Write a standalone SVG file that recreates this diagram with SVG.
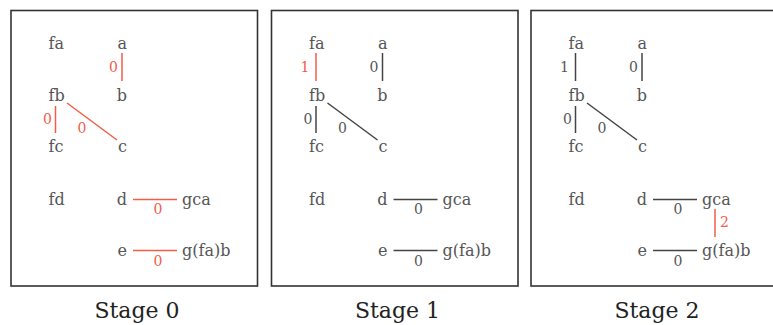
<svg xmlns="http://www.w3.org/2000/svg" width="773" height="325" viewBox="0 0 773 325">
<style>
.frame{fill:#fff;stroke:#333;stroke-width:1.6}
.n{font-family:"DejaVu Serif","Liberation Serif",serif;font-size:16px;fill:#555}
.e{font-family:"DejaVu Serif","Liberation Serif",serif;font-size:14px;fill:#555}
.er{font-family:"DejaVu Serif","Liberation Serif",serif;font-size:14px;fill:#f25c4a}
.r{text-anchor:end}
.m{text-anchor:middle}
.cap{font-family:"DejaVu Serif","Liberation Serif",serif;font-size:22px;fill:#222;text-anchor:middle}
.l{stroke:#444;stroke-width:1.5;fill:none}
.lr{stroke:#f25c4a;stroke-width:1.5;fill:none}
</style>
<rect width="773" height="325" fill="#fff"/>

<!-- Stage 0 -->
<g id="stage0">
<rect class="frame" x="11" y="10.5" width="246.5" height="275.5"/>
<g id="s0-nodes">
<text id="s0-fa" class="n" x="48.5" y="49">fa</text>
<text id="s0-a" class="n r" x="127" y="49">a</text>
<text id="s0-fb" class="n" x="48.5" y="101">fb</text>
<text id="s0-b" class="n r" x="127" y="101">b</text>
<text id="s0-fc" class="n" x="48.5" y="152">fc</text>
<text id="s0-c" class="n r" x="127" y="152">c</text>
<text id="s0-fd" class="n" x="48.5" y="205">fd</text>
<text id="s0-d" class="n r" x="127" y="205">d</text>
<text id="s0-gca" class="n" x="182" y="205">gca</text>
<text id="s0-e" class="n r" x="127" y="256">e</text>
<text id="s0-gfab" class="n" x="182" y="256">g(fa)b</text>
</g>
<g id="s0-connectors">
<line class="lr" x1="122" y1="53" x2="122" y2="81"/>
<line class="lr" x1="55.5" y1="106" x2="55.5" y2="133"/>
<line class="lr" x1="67" y1="103" x2="117" y2="140"/>
<line class="lr" x1="133" y1="199.5" x2="177" y2="199.5"/>
<line class="lr" x1="133" y1="250.5" x2="177" y2="250.5"/>
<text class="er r" x="118" y="72">0</text>
<text class="er r" x="52" y="124">0</text>
<text class="er" x="77.5" y="132.5">0</text>
<text class="er m" x="158" y="214">0</text>
<text class="er m" x="158" y="266">0</text>
</g>
<text class="cap" x="137" y="318">Stage 0</text>
</g>

<!-- Stage 1 -->
<g id="stage1" transform="translate(260.5,0)">
<rect class="frame" x="11" y="10.5" width="246.5" height="275.5"/>
<g id="s1-nodes">
<text id="s1-fa" class="n" x="48.5" y="49">fa</text>
<text id="s1-a" class="n r" x="127" y="49">a</text>
<text id="s1-fb" class="n" x="48.5" y="101">fb</text>
<text id="s1-b" class="n r" x="127" y="101">b</text>
<text id="s1-fc" class="n" x="48.5" y="152">fc</text>
<text id="s1-c" class="n r" x="127" y="152">c</text>
<text id="s1-fd" class="n" x="48.5" y="205">fd</text>
<text id="s1-d" class="n r" x="127" y="205">d</text>
<text id="s1-gca" class="n" x="182" y="205">gca</text>
<text id="s1-e" class="n r" x="127" y="256">e</text>
<text id="s1-gfab" class="n" x="182" y="256">g(fa)b</text>
</g>
<g id="s1-connectors">
<line class="lr" x1="55.5" y1="53" x2="55.5" y2="81"/>
<line class="l" x1="122" y1="53" x2="122" y2="81"/>
<line class="l" x1="55.5" y1="106" x2="55.5" y2="133"/>
<line class="l" x1="67" y1="103" x2="117" y2="140"/>
<line class="l" x1="133" y1="199.5" x2="177" y2="199.5"/>
<line class="l" x1="133" y1="250.5" x2="177" y2="250.5"/>
<text class="er r" x="49" y="72">1</text>
<text class="e r" x="118" y="72">0</text>
<text class="e r" x="52" y="124">0</text>
<text class="e" x="77.5" y="132.5">0</text>
<text class="e m" x="158" y="214">0</text>
<text class="e m" x="158" y="266">0</text>
</g>
<text class="cap" x="137" y="318">Stage 1</text>
</g>

<!-- Stage 2 -->
<g id="stage2" transform="translate(520,0)">
<rect class="frame" x="11" y="10.5" width="246.5" height="275.5"/>
<g id="s2-nodes">
<text id="s2-fa" class="n" x="48.5" y="49">fa</text>
<text id="s2-a" class="n r" x="127" y="49">a</text>
<text id="s2-fb" class="n" x="48.5" y="101">fb</text>
<text id="s2-b" class="n r" x="127" y="101">b</text>
<text id="s2-fc" class="n" x="48.5" y="152">fc</text>
<text id="s2-c" class="n r" x="127" y="152">c</text>
<text id="s2-fd" class="n" x="48.5" y="205">fd</text>
<text id="s2-d" class="n r" x="127" y="205">d</text>
<text id="s2-gca" class="n" x="182" y="205">gca</text>
<text id="s2-e" class="n r" x="127" y="256">e</text>
<text id="s2-gfab" class="n" x="182" y="256">g(fa)b</text>
</g>
<g id="s2-connectors">
<line class="l" x1="55.5" y1="53" x2="55.5" y2="81"/>
<line class="l" x1="122" y1="53" x2="122" y2="81"/>
<line class="l" x1="55.5" y1="106" x2="55.5" y2="133"/>
<line class="l" x1="67" y1="103" x2="117" y2="140"/>
<line class="l" x1="133" y1="199.5" x2="177" y2="199.5"/>
<line class="l" x1="133" y1="250.5" x2="177" y2="250.5"/>
<line class="lr" x1="195" y1="209" x2="195" y2="237"/>
<text class="e r" x="49" y="72">1</text>
<text class="e r" x="118" y="72">0</text>
<text class="e r" x="52" y="124">0</text>
<text class="e" x="77.5" y="132.5">0</text>
<text class="e m" x="158" y="214">0</text>
<text class="e m" x="158" y="266">0</text>
<text class="er" x="200" y="227">2</text>
</g>
<text class="cap" x="137" y="318">Stage 2</text>
</g>
</svg>
